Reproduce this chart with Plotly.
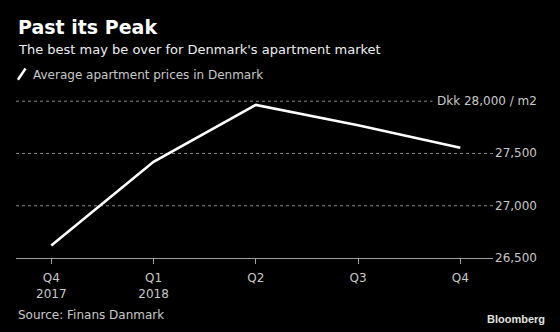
import plotly.graph_objects as go

quarters = ["Q4<br>2017", "Q1<br>2018", "Q2", "Q3", "Q4"]
prices = [26620, 27420, 27965, 27770, 27555]
y_ticks = [26500, 27000, 27500, 28000]
y_tick_labels = ["26,500", "27,000", "27,500", "Dkk 28,000 / m2"]

FONT = "DejaVu Sans"
x_idx = list(range(len(quarters)))

fig = go.Figure()
fig.add_trace(go.Scatter(x=x_idx, y=prices, mode="lines",
                         line=dict(color="white", width=2.6),
                         showlegend=False, hoverinfo="skip"))

shapes = []
for v in y_ticks[1:]:
    shapes.append(dict(type="line", xref="paper", yref="y",
                       x0=0, x1=(0.873 if v == 28000 else 1.0), y0=v, y1=v,
                       line=dict(color="#8a8a8a", width=1, dash="dot"), layer="below"))
# legend slash icon
shapes.append(dict(type="line", xref="paper", yref="paper",
                   x0=0.004, x1=0.020, y0=1.10, y1=1.17,
                   line=dict(color="white", width=2.5)))

annotations = []
for v, t in zip(y_ticks, y_tick_labels):
    annotations.append(dict(xref="paper", yref="y", x=1.0974, y=v, text=t,
                            showarrow=False, xanchor="right", yanchor="middle",
                            font=dict(family=FONT, size=12, color="#c8c8c8")))
annotations += [
    dict(xref="paper", yref="paper", x=0, y=1.426, text="<b>Past its Peak</b>",
         showarrow=False, xanchor="left", yanchor="middle",
         font=dict(family=FONT, size=19, color="white")),
    dict(xref="paper", yref="paper", x=0, y=1.290,
         text="The best may be over for Denmark's apartment market",
         showarrow=False, xanchor="left", yanchor="middle",
         font=dict(family=FONT, size=13, color="#eeeeee")),
    dict(xref="paper", yref="paper", x=0.0314, y=1.13,
         text="Average apartment prices in Denmark",
         showarrow=False, xanchor="left", yanchor="middle",
         font=dict(family=FONT, size=12, color="#c8c8c8")),
    dict(xref="paper", yref="paper", x=0, y=-0.352, text="Source: Finans Danmark",
         showarrow=False, xanchor="left", yanchor="middle",
         font=dict(family=FONT, size=12, color="#c8c8c8")),
    dict(xref="paper", yref="paper", x=1.114, y=-0.377, text="<b>Bloomberg</b>",
         showarrow=False, xanchor="right", yanchor="middle",
         font=dict(family="Liberation Sans", size=11, color="#e0e0e0")),
]

fig.update_layout(
    width=560, height=332,
    paper_bgcolor="black", plot_bgcolor="black",
    margin=dict(l=16, r=67, t=96, b=74),
    xaxis=dict(range=[-0.345, 4.32], tickmode="array", tickvals=x_idx, ticktext=quarters,
               showgrid=False, zeroline=False, showline=True, linecolor="#a0a0a0", linewidth=1,
               ticks="outside", ticklen=5, tickcolor="#a0a0a0", ticklabelstandoff=4,
               tickfont=dict(family=FONT, size=12, color="#c8c8c8"), fixedrange=True),
    yaxis=dict(range=[26500, 28050], showgrid=False, zeroline=False, showticklabels=False,
               showline=False, fixedrange=True),
    shapes=shapes, annotations=annotations,
)

fig.write_html("out.html")
